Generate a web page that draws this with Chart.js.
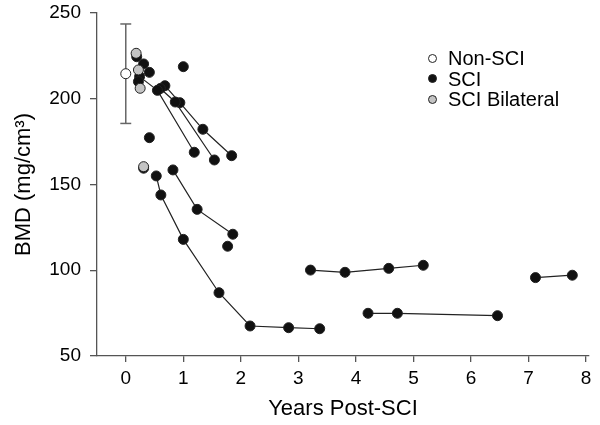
<!DOCTYPE html>
<html>
<head>
<meta charset="utf-8">
<script src="https://cdn.jsdelivr.net/npm/chart.js@4/dist/chart.umd.min.js"></script>
<style>
  body { margin: 0; background: #fff; }
  #wrap { position: relative; width: 600px; height: 425px; }
  #legend { position: absolute; left: 428px; top: 48px; font-family: "Liberation Sans", Arial, sans-serif; font-size: 20px; color: #000; }
  #legend .row { display: flex; align-items: center; height: 20.5px; line-height: 20.5px; }
  #legend .dot { width: 7px; height: 7px; border-radius: 50%; border: 1px solid #222; margin-right: 11px; }
</style>
</head>
<body>
<div id="wrap">
  <canvas id="bmd-chart" width="600" height="425"></canvas>
  <div id="legend">
    <div class="row"><span class="dot" style="background:#fff"></span>Non-SCI</div>
    <div class="row"><span class="dot" style="background:#111"></span>SCI</div>
    <div class="row"><span class="dot" style="background:#c4c4c4"></span>SCI Bilateral</div>
  </div>
</div>
<script>
// tick labels
const xTicks = [0, 1, 2, 3, 4, 5, 6, 7, 8]
const yTicks = [50, 100, 150, 200, 250]

// non-SCI mean and spread
const nonSci = [[0, 214.6]]
const nonSciSd = 29

// SCI bilateral (grey)
const sciBilateral = [[0.18, 226.5], [0.22, 216.8], [0.25, 206.1], [0.31, 160.4]]

// SCI single scans (not connected)
const sciSingles = [[0.19, 224.5], [0.31, 220.3], [0.41, 215.4], [1.0, 218.7], [0.22, 210.0],
    [0.41, 177.3], [0.31, 159.5], [1.77, 114]]

// SCI subjects with repeat scans (connected)
const subjA = [[0.24, 212.9], [0.55, 204.9], [1.19, 168.8]]
const subjB = [[0.60, 206.0], [0.86, 198.1], [1.54, 164.3]]
const subjC = [[0.68, 207.6], [0.94, 197.7], [1.34, 182.2], [1.84, 166.8]]
const subjD = [[0.53, 155], [0.61, 143.9], [1.0, 118], [1.62, 86.9], [2.16, 67.5], [2.83, 66.5], [3.37, 65.9]]
const subjE = [[0.82, 158.5], [1.24, 135.5], [1.86, 121]]
const subjF = [[3.21, 100.1], [3.81, 98.8], [4.57, 101.1], [5.17, 102.9]]
const subjG = [[4.21, 74.9], [4.72, 74.9], [6.46, 73.5]]
const subjH = [[7.12, 95.7], [7.76, 97.1]]

const subjects = [subjA, subjB, subjC, subjD, subjE, subjF, subjG, subjH]

const font = "'Liberation Sans', Arial, sans-serif"
const axisColor = '#555'

function pts(arr) {
    return arr.map(p => ({x: p[0], y: p[1]}))
}

function dots(arr, fill) {
    return {
        data: pts(arr),
        showLine: false,
        pointRadius: 5,
        pointBackgroundColor: fill,
        pointBorderColor: '#222',
        pointBorderWidth: 1
    }
}

const datasets = []
datasets.push(dots(sciBilateral, '#c4c4c4'))
datasets.push(dots(nonSci, '#fff'))
datasets.push(dots(sciSingles, '#111'))

subjects.forEach(s => {
    datasets.push({
        data: pts(s),
        showLine: true,
        borderColor: '#222',
        borderWidth: 1.2,
        pointRadius: 5,
        pointBackgroundColor: '#111',
        pointBorderColor: '#222',
        pointBorderWidth: 1
    })
})

// error bar for non-SCI: stem and two caps
const m = nonSci[0]
const capHalf = 0.095
const bars = [
    [[m[0], m[1] - nonSciSd], [m[0], m[1] + nonSciSd]],
    [[m[0] - capHalf, m[1] + nonSciSd], [m[0] + capHalf, m[1] + nonSciSd]],
    [[m[0] - capHalf, m[1] - nonSciSd], [m[0] + capHalf, m[1] - nonSciSd]]
]
bars.forEach(b => {
    datasets.push({
        data: pts(b),
        showLine: true,
        borderColor: '#666',
        borderWidth: 1.5,
        pointRadius: 0
    })
})

new Chart(document.querySelector('#bmd-chart').getContext('2d'), {
    type: 'scatter',
    data: { datasets: datasets },
    options: {
        responsive: false,
        animation: false,
        layout: { padding: { top: 13, right: 11, left: 0, bottom: 0 } },
        plugins: { legend: { display: false }, tooltip: { enabled: false } },
        scales: {
            x: {
                type: 'linear',
                min: -0.5,
                max: 8.05,
                afterFit: scale => {
                    scale.height = 69
                    scale.paddingLeft = 0
                    scale.paddingRight = 0
                },
                afterBuildTicks: scale => { scale.ticks = xTicks.map(v => ({value: v})) },
                ticks: { font: { family: font, size: 19 }, color: '#000', padding: 5 },
                grid: { drawOnChartArea: false, tickLength: 6, color: axisColor, lineWidth: 1.3 },
                border: { color: axisColor, width: 1.3 },
                title: { display: true, text: 'Years Post-SCI', color: '#000',
                    font: { family: font, size: 22 }, padding: { top: 0, bottom: 3 } }
            },
            y: {
                min: 50,
                max: 250,
                afterFit: scale => {
                    scale.width = 97
                    scale.paddingTop = 0
                    scale.paddingBottom = 0
                },
                afterBuildTicks: scale => { scale.ticks = yTicks.map(v => ({value: v})) },
                ticks: { font: { family: font, size: 19 }, color: '#000', padding: 9 },
                grid: { drawOnChartArea: false, tickLength: 7, color: axisColor, lineWidth: 1.3 },
                border: { color: axisColor, width: 1.3 },
                title: { display: true, text: 'BMD (mg/cm³)', color: '#000',
                    font: { family: font, size: 22 }, padding: { top: 11, bottom: 0 } }
            }
        }
    }
})
</script>
</body>
</html>
